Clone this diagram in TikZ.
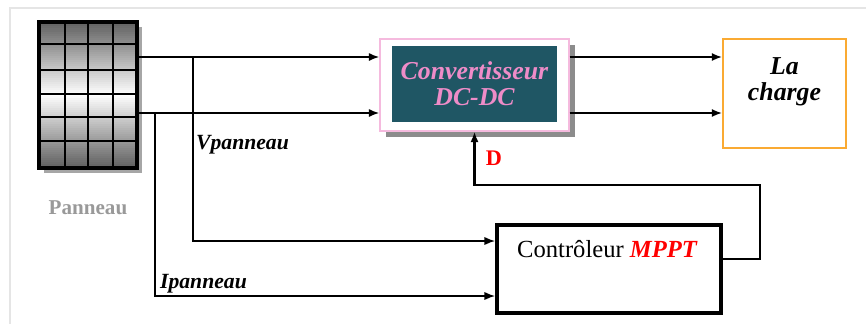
\documentclass[tikz,border=0pt]{standalone}
\usepackage{fontspec}
\setmainfont{Liberation Serif}
\usetikzlibrary{arrows.meta,shadows}
\definecolor{convfill}{RGB}{31,86,100}
\definecolor{convpink}{RGB}{238,140,200}
\definecolor{loadorange}{RGB}{250,170,50}
\newcommand{\fsz}[1]{\fontsize{#1}{1.15\dimexpr #1\relax}\selectfont}
\tikzset{
  wire/.style={line width=1.6pt},
  tap/.style={line width=1.1pt},
  boxshadow/.style={drop shadow={shadow xshift=5pt,shadow yshift=-5pt,fill=black!45,opacity=1}},
}
\begin{document}
\begin{tikzpicture}[x=0.03cm,y=-0.03cm,>={Latex[length=9pt,width=7pt]}]
  \useasboundingbox (0,0) rectangle (866,323);
  \draw[black!10,line width=1.5pt] (10,330) |- (880,8);

  % solar panel: grey at both ends, white in the middle
  \node[minimum width=2.94cm,minimum height=4.38cm,fill=white,
        drop shadow={shadow xshift=4pt,shadow yshift=-4pt,fill=black!35,opacity=1}] (panel) at (88,95) {};
  \foreach \i [evaluate=\i as \p using {62*abs(\i-36)/36}] in {0,...,72}
    \fill[black!\p] (39,22+2*\i) rectangle (137,24.2+2*\i);
  \foreach \x in {65,88,113}
    \draw[line width=1.4pt] (\x,22) -- (\x,168);
  \foreach \y in {44,70,94,117,141}
    \draw[line width=1.4pt] (39,\y) -- (137,\y);
  \draw[line width=3.5pt] (panel.north west) rectangle (panel.south east);
  \node[text=black!40,font=\bfseries\fsz{18pt}] (panlbl) at (88,208) {Panneau};

  % converter
  \node[draw=convpink!60,line width=1pt,fill=white,minimum width=5.67cm,minimum height=2.76cm,
        boxshadow] (conv) at (474.5,85) {};
  \node[fill=convfill,minimum width=4.95cm,minimum height=2.28cm,text=convpink,
        font=\bfseries\itshape\fsz{22pt},align=center] (convin) at (474.5,84)
        {Convertisseur\\[-3pt]DC-DC};

  % load
  \node[draw=loadorange,line width=1.2pt,minimum width=3.69cm,minimum height=3.27cm] (load) at (784.5,93.5) {};
  \node[font=\bfseries\itshape\fsz{22pt},align=center] (loadlbl) at (784.5,82) {La\\[-3pt]charge};

  % controller
  \node[draw,line width=3.5pt,minimum width=6.72cm,minimum height=2.64cm] (ctrl) at (609,269) {};
  \node[font=\fsz{21pt}] (ctrllbl) at (607,249) {Contrôleur \textcolor{red}{\bfseries\itshape MPPT}};

  \coordinate (pplus) at (137,57);
  \coordinate (pminus) at (137,113);
  \coordinate (vtap) at (193,57);
  \coordinate (itap) at (155,113);
  \coordinate (vin) at (495,241);
  \coordinate (iin) at (495,296);
  \coordinate (dout) at (723,259);
  \coordinate (dcorner) at (760,185);

  \draw[wire,->] (pplus) -- (pplus -| conv.west);
  \draw[wire,->] (pminus) -- (pminus -| conv.west);
  \draw[wire,line width=2pt,->] (conv.east |- pplus) -- (load.west |- pplus);
  \draw[wire,line width=2pt,->] (conv.east |- pminus) -- (load.west |- pminus);
  \draw[tap,->] (vtap) |- (vin);
  \draw[tap,->] (itap) |- (iin);
  \draw[line width=2.5pt,->] (dout) -| (dcorner) -| (conv.south);

  \node[font=\bfseries\itshape\fsz{18.5pt},anchor=west] (vlbl) at (192,145) {Vpanneau};
  \node[font=\bfseries\itshape\fsz{18.5pt},anchor=west] (ilbl) at (156,284) {Ipanneau};
  \node[text=red,font=\bfseries\fsz{19pt}] (dlbl) at (494,158) {D};
\end{tikzpicture}
\end{document}
